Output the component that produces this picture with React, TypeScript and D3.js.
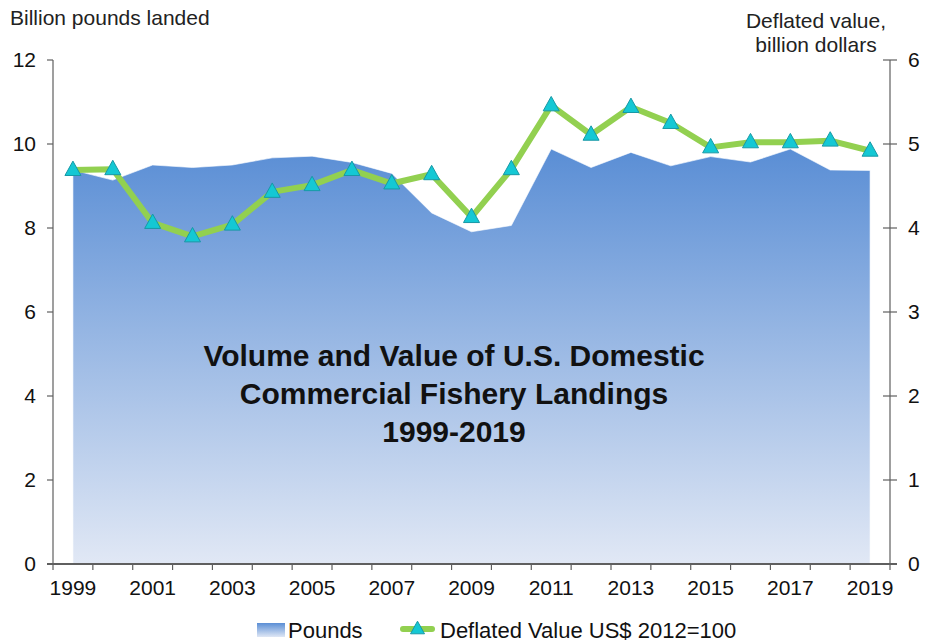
import * as React from "react"
import * as d3 from "d3"

const years = d3.range(1999, 2020).map(String)

// billion pounds landed (left axis)
const pounds = [
  9.38, 9.14, 9.5, 9.44, 9.5, 9.67, 9.71, 9.56, 9.3, 8.36, 7.91,
  8.06, 9.88, 9.44, 9.8, 9.48, 9.7, 9.57, 9.88, 9.38, 9.37,
]

// deflated value, billion dollars (right axis)
const deflatedValue = [
  4.69, 4.7, 4.06, 3.9, 4.04, 4.43, 4.51, 4.69, 4.53, 4.64, 4.13,
  4.7, 5.46, 5.11, 5.44, 5.25, 4.96, 5.02, 5.02, 5.04, 4.92,
]

const leftTicks = [0, 2, 4, 6, 8, 10, 12]
const rightTicks = [0, 1, 2, 3, 4, 5, 6]
const titleLines = [
  "Volume and Value of U.S. Domestic",
  "Commercial Fishery Landings",
  "1999-2019",
]

const W = 936
const H = 643
const margin = { top: 60, right: 46, bottom: 79, left: 53 }
const font = "'Liberation Sans', Arial, sans-serif"
const axisColor = "#5f5f5f"
const green = "#92d050"
const cyan = "#14c8d4"
const cyanStroke = "#1898a6"

function Triangle({ cx, cy, s = 16 }: { cx: number; cy: number; s?: number }) {
  const h = s * 0.9
  const pts = [
    [cx, cy - h * 0.62],
    [cx + s / 2, cy + h * 0.38],
    [cx - s / 2, cy + h * 0.38],
  ]
  return <polygon points={pts.map((p) => p.join(",")).join(" ")} fill={cyan} stroke={cyanStroke} strokeWidth={1} />
}

export default function App() {
  const x = d3.scaleBand().domain(years).range([margin.left, W - margin.right])
  const yL = d3.scaleLinear().domain([0, 12]).range([H - margin.bottom, margin.top])
  const yR = d3.scaleLinear().domain([0, 6]).range([H - margin.bottom, margin.top])
  const cx = (yr: string) => (x(yr) as number) + x.bandwidth() / 2

  const area = d3
    .area<number>()
    .x((_, i) => cx(years[i]))
    .y0(yL(0))
    .y1((d) => yL(d))
  const line = d3
    .line<number>()
    .x((_, i) => cx(years[i]))
    .y((d) => yR(d))

  const x0 = margin.left
  const x1 = W - margin.right
  const yBase = yL(0)
  const boundaries = years.map((yr) => x(yr) as number).concat([x1])

  return (
    <svg width={W} height={H} style={{ position: "absolute", left: 0, top: 0, background: "#fff" }} fontFamily={font}>
      <defs>
        <linearGradient id="areaGrad" x1="0" y1="0" x2="0" y2="1">
          <stop offset="0" stopColor="#5a8ed5" />
          <stop offset="1" stopColor="#e1e8f5" />
        </linearGradient>
        <linearGradient id="swatchGrad" x1="0" y1="0" x2="0" y2="1">
          <stop offset="0" stopColor="#5a8ed5" />
          <stop offset="1" stopColor="#dfe7f5" />
        </linearGradient>
      </defs>

      <path d={area(pounds) || ""} fill="url(#areaGrad)" stroke="#ffffff" strokeOpacity={0.6} strokeWidth={1} />

      {/* title inside the plot */}
      {titleLines.map((t, i) => (
        <text key={t} x={454} y={366 + i * 38} textAnchor="middle" fontSize={30} fontWeight="bold" fill="#111">
          {t}
        </text>
      ))}

      <path d={line(deflatedValue) || ""} fill="none" stroke={green} strokeWidth={6} strokeLinejoin="round" />
      {deflatedValue.map((v, i) => (
        <Triangle key={i} cx={cx(years[i])} cy={yR(v)} />
      ))}

      {/* left axis */}
      <line x1={x0} x2={x0} y1={margin.top} y2={yBase} stroke={axisColor} strokeWidth={1.2} />
      {leftTicks.map((t) => (
        <g key={t}>
          <line x1={x0 - 6} x2={x0} y1={yL(t)} y2={yL(t)} stroke={axisColor} strokeWidth={1.2} />
          <text x={36} y={yL(t) + 7} textAnchor="end" fontSize={21} fill="#111">
            {t}
          </text>
        </g>
      ))}

      {/* right axis */}
      <line x1={x1} x2={x1} y1={margin.top} y2={yBase} stroke={axisColor} strokeWidth={1.2} />
      {rightTicks.map((t) => (
        <g key={t}>
          <line x1={x1 - 7} x2={x1 + 7} y1={yR(t)} y2={yR(t)} stroke={axisColor} strokeWidth={1.2} />
          <text x={908} y={yR(t) + 7} fontSize={21} fill="#111">
            {t}
          </text>
        </g>
      ))}

      {/* x axis */}
      <line x1={x0 - 6} x2={x1 + 7} y1={yBase} y2={yBase} stroke={axisColor} strokeWidth={2} />
      {boundaries.map((b, i) => (
        <line key={i} x1={b} x2={b} y1={yBase} y2={yBase + 6} stroke={axisColor} strokeWidth={1.2} />
      ))}
      {years
        .filter((_, i) => i % 2 === 0)
        .map((yr) => (
          <text key={yr} x={cx(yr)} y={595} textAnchor="middle" fontSize={21} fill="#111">
            {yr}
          </text>
        ))}

      {/* axis titles */}
      <text x={10} y={25} fontSize={21} fill="#222">
        Billion pounds landed
      </text>
      <text x={816} y={28} textAnchor="middle" fontSize={21} fill="#222">
        Deflated value,
      </text>
      <text x={816} y={52} textAnchor="middle" fontSize={21} fill="#222">
        billion dollars
      </text>

      {/* legend */}
      <rect x={257} y={623} width={28} height={14} fill="url(#swatchGrad)" />
      <text x={288} y={638} fontSize={22} fill="#111">
        Pounds
      </text>
      <line x1={403} x2={432} y1={629} y2={629} stroke={green} strokeWidth={6} strokeLinecap="round" />
      <Triangle cx={417.5} cy={629} s={14} />
      <text x={440} y={638} fontSize={22} fill="#111">
        Deflated Value US$ 2012=100
      </text>
    </svg>
  )
}
